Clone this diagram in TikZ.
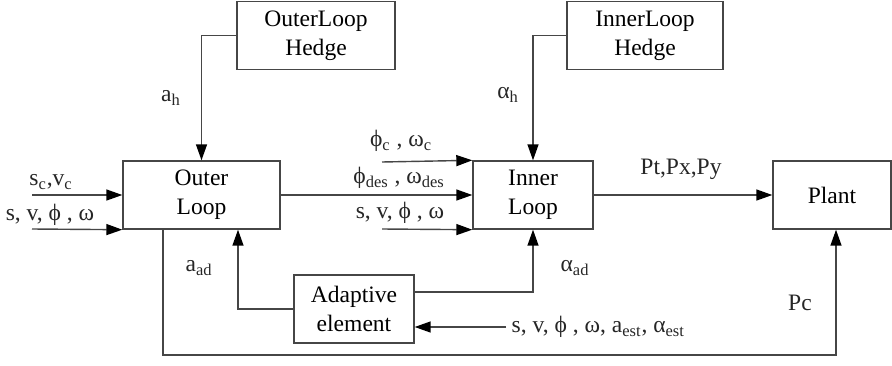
\documentclass[tikz,border=0pt]{standalone}
\usepackage{fontspec}
\setmainfont{Liberation Serif}
\usepackage{tikz}
\usetikzlibrary{arrows.meta,positioning,calc}
\definecolor{lineg}{RGB}{70,70,70}
\newcommand{\lo}[1]{\textsubscript{#1}}

\begin{document}
\begin{tikzpicture}[x=0.02cm, y=-0.02cm, font=\fontsize{13.4}{16.5}\selectfont,
    block/.style={rectangle, draw=lineg, line width=0.8pt, minimum height=1.36cm, align=center, inner sep=2pt},
    arr/.style={-{Triangle[length=0.32cm, width=0.22cm, color=black]}, line width=0.8pt, draw=lineg},
    lbl/.style={inner sep=0pt, text=black!85}]
        \useasboundingbox (0,0) rectangle (892,365);

        % blocks
        \node[block, minimum width=3.16cm] (ohedge) at (316,35.5) {OuterLoop\\Hedge};
        \node[block, minimum width=3.12cm] (ihedge) at (645,35.5) {InnerLoop\\Hedge};
        \node[block, minimum width=3.14cm] (outer) at (201.5,195) {Outer\\Loop};
        \node[block, minimum width=2.4cm] (inner) at (533,195) {Inner\\Loop};
        \node[block, minimum width=2.36cm] (plant) at (832,195) {Plant};
        \node[block, minimum width=2.4cm] (adapt) at (354,309) {Adaptive\\element};

        % free ends of the inputs
        \coordinate (in1) at (32,195);
        \coordinate (in2) at (32,229);
        \coordinate (in3) at (382,162);
        \coordinate (in4) at (382,229);
        \coordinate (in5) at (506,327);
        \coordinate (fb) at (836,355);

        % hedge signals
        \draw[arr] (ohedge.west) -| (outer.north);
        \draw[arr] (ihedge.west) -| (inner.north);
        \node[lbl] (ah) at (171,98) {a\lo{h}};
        \node[lbl] (alh) at (508,95) {α\lo{h}};

        % outer loop inputs
        \draw[arr] (in1) -- (outer.west);
        \draw[arr] (in2) -- (outer.south west);
        \node[lbl] (scvc) at (51,182) {s\lo{c},v\lo{c}};
        \node[lbl] (st1) at (50,215) {s, v, ϕ , ω};

        % inner loop inputs
        \draw[arr] (in3) -- (inner.north west);
        \draw[arr] (outer.east) -- (inner.west);
        \draw[arr] (in4) -- (inner.south west);
        \node[lbl] (phic) at (401,141) {ϕ\lo{c} , ω\lo{c}};
        \node[lbl] (phides) at (399,178) {ϕ\lo{des} , ω\lo{des}};
        \node[lbl] (st2) at (400,213) {s, v, ϕ , ω};

        % to the plant
        \draw[arr] (inner.east) -- (plant.west);
        \node[lbl] (pt) at (681,169) {Pt,Px,Py};

        % adaptive element
        \draw[arr] (adapt.west) -| ([xshift=0.73cm]outer.south);
        \draw[arr] ([yshift=0.34cm]adapt.east) -| (inner.south);
        \draw[arr] (in5) -- (in5 -| adapt.east);
        \node[lbl, anchor=west] (st3) at ([xshift=3pt]in5) {s, v, ϕ , ω, a\lo{est}, α\lo{est}};
        \node[lbl] (aad) at (199,268) {a\lo{ad}};
        \node[lbl] (alad) at (575,268) {α\lo{ad}};

        % feedback to the plant
        \draw[arr] ([xshift=-0.77cm]outer.south) |- (fb) -- (fb |- plant.south);
        \node[lbl] (pc) at (800,303) {Pc};
      \end{tikzpicture}
\end{document}
